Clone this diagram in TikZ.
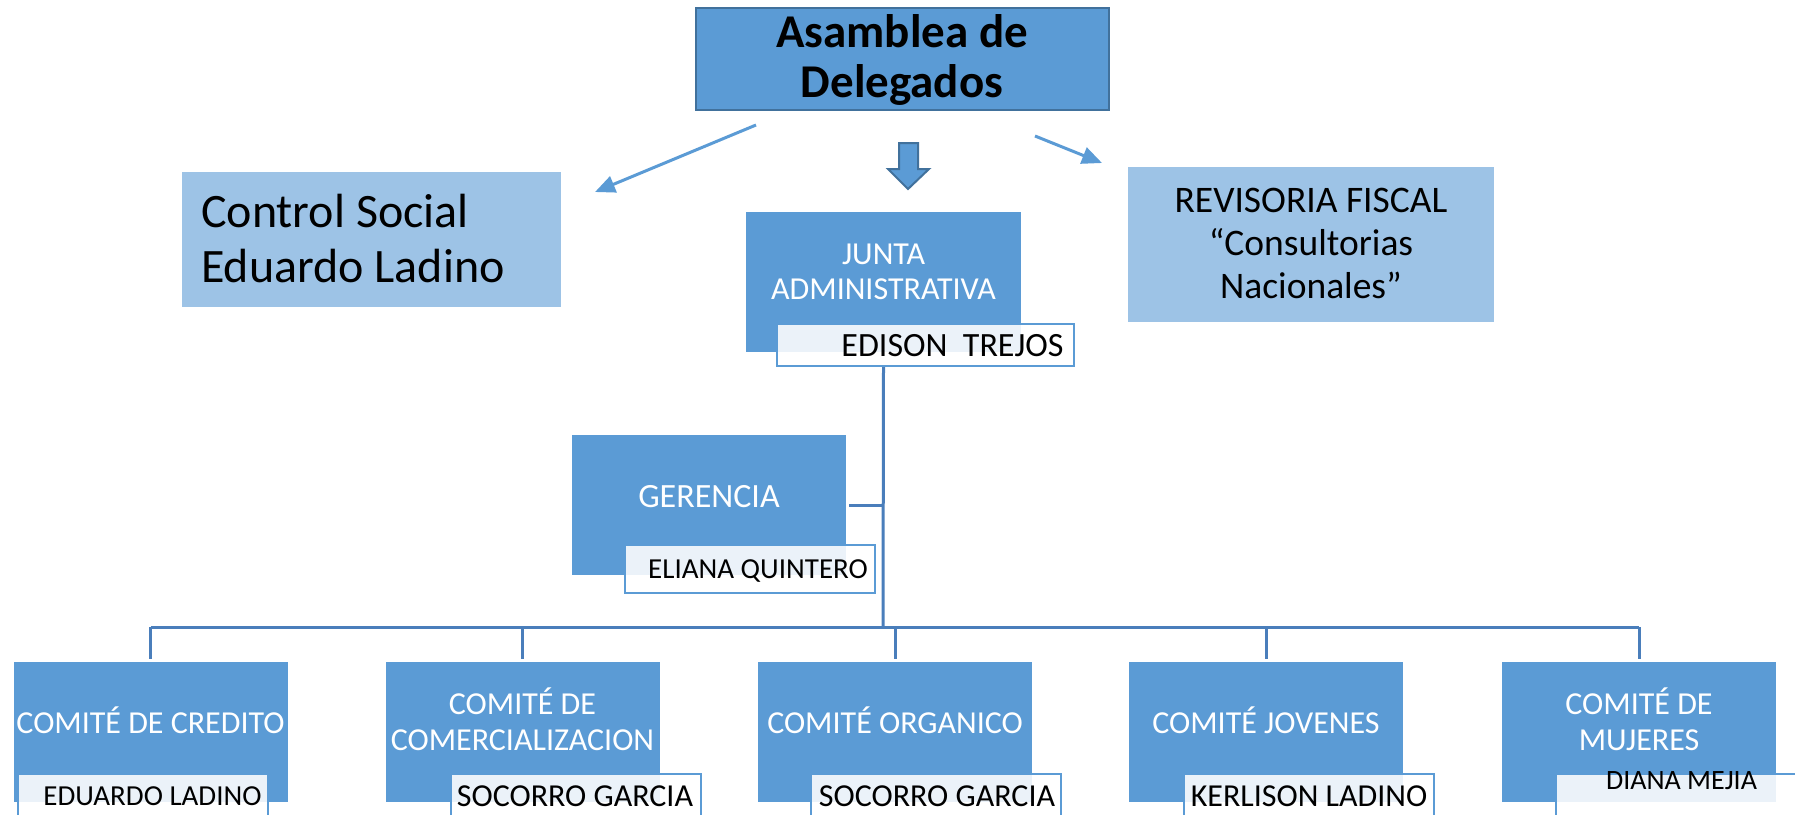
\documentclass[tikz,border=0pt]{standalone}
\usepackage{fontspec}
\setmainfont{Carlito}
\usetikzlibrary{arrows.meta}

\definecolor{azul}{HTML}{5B9BD5}
\definecolor{azulclaro}{HTML}{9DC3E6}
\definecolor{azuloscuro}{HTML}{41719C}
\definecolor{linea}{HTML}{4A7EBB}

\tikzset{
  caja/.style={fill=azul, draw=none, minimum width=274pt, minimum height=140pt, inner sep=0pt},
  nombre/.style={fill=white, fill opacity=0.88, draw=azul, line width=2pt, inner sep=0pt, minimum width=250pt, minimum height=48pt},
  blanco/.style={text=white, font=\fontsize{32}{36}\selectfont, align=center, anchor=base, inner sep=0pt},
  negro/.style={text=black, font=\fontsize{32}{36}\selectfont, anchor=base, inner sep=0pt},
  conector/.style={draw=linea, line width=3pt},
  flecha/.style={draw=azul, line width=3pt, -{Triangle[length=20pt,width=17pt]}}
}

\begin{document}
\begin{tikzpicture}[x=1pt, y=-1pt]
  \useasboundingbox (0,0) rectangle (1795,814);
  \clip (0,0) rectangle (1795,814);

  % asamblea
  \node[caja, draw=azuloscuro, line width=2pt, minimum width=413pt, minimum height=102pt] (asamblea) at (902,59) {};
  \node[anchor=base, inner sep=0pt, align=center, font=\fontsize{47}{50}\selectfont\bfseries] (asambleatxt) at (902,97) {Asamblea de\\Delegados};

  % flechas de la asamblea
  \coordinate (izqa) at (756,125);
  \coordinate (izqb) at (595,192);
  \coordinate (dera) at (1035,136);
  \coordinate (derb) at (1102,163);
  \draw[flecha] (izqa) -- (izqb);
  \draw[flecha] (dera) -- (derb);
  \filldraw[fill=azul, draw=azuloscuro, line width=2pt, line join=miter]
    (899,143) -- (918,143) -- (918,169) -- (929,169) -- (908,189) -- (888,169) -- (899,169) -- cycle;

  % control social y revisoria
  \node[caja, fill=azulclaro, minimum width=379pt, minimum height=135pt] (control) at (371.5,239.5) {};
  \node[anchor=base west, inner sep=0pt, align=left, font=\fontsize{48}{55}\selectfont] (controltxt) at (201,282) {Control Social\\Eduardo Ladino};
  \node[caja, fill=azulclaro, minimum width=366pt, minimum height=155pt] (revisoria) at (1311,244.5) {};
  \node[anchor=base, inner sep=0pt, align=center, font=\fontsize{37.5}{43}\selectfont] (revisoriatxt) at (1311,298) {REVISORIA FISCAL\\``Consultorias\\Nacionales''};

  % junta y gerencia
  \node[caja, minimum width=275pt] (junta) at (883.5,282) {};
  \node[blanco, font=\fontsize{32}{35}\selectfont] (juntatxt) at (883.5,299) {JUNTA\\ADMINISTRATIVA};
  \node[caja] (gerencia) at (709,505) {};
  \node[blanco, font=\fontsize{34}{40}\selectfont] (gerenciatxt) at (709,507) {GERENCIA};

  % lineas
  \coordinate (bus) at (883,627);
  \draw[conector] (junta.center |- 0,366) -- (bus);
  \draw[conector] ([xshift=3pt]gerencia.east) -- (bus |- gerencia.east);

  \node[nombre, minimum width=297pt, minimum height=42pt] (edison) at (925.5,345) {};
  \node[negro, font=\fontsize{34}{40}\selectfont] (edisontxt) at (952.5,356) {EDISON\ \ TREJOS};
  \node[nombre] (eliana) at (750,569) {};
  \node[negro, font=\fontsize{29}{34}\selectfont] (elianatxt) at (758,578) {ELIANA QUINTERO};

  % comites
  \foreach \n/\x in {1/150.5, 2/522.5, 3/895, 4/1266, 5/1639}
    \node[caja] (c\n) at (\x,732) {};
  \draw[conector] (c1 |- bus) -- (c5 |- bus);
  \foreach \n in {1,...,5}
    \draw[conector] (c\n |- bus) -- ([yshift=3pt]c\n.north);

  \node[blanco] (c1txt) at (150.5,733) {COMITÉ DE CREDITO};
  \node[blanco] (c2txt) at (522.5,750) {COMITÉ DE\\COMERCIALIZACION};
  \node[blanco] (c3txt) at (895,733) {COMITÉ ORGANICO};
  \node[blanco] (c4txt) at (1266,733) {COMITÉ JOVENES};
  \node[blanco] (c5txt) at (1639,750) {COMITÉ DE\\MUJERES};

  \node[nombre] (n1) at (143,798) {};
  \node[nombre] (n2) at (575.5,798) {};
  \node[nombre] (n3) at (936,798) {};
  \node[nombre] (n4) at (1308.5,798) {};
  \node[nombre] (n5) at (1681,798) {};
  \node[negro, font=\fontsize{29}{34}\selectfont] (n1txt) at (152.5,805) {EDUARDO LADINO};
  \node[negro] (n2txt) at (575,806) {SOCORRO GARCIA};
  \node[negro] (n3txt) at (937,806) {SOCORRO GARCIA};
  \node[negro] (n4txt) at (1309,806) {KERLISON LADINO};
  \node[negro, font=\fontsize{28}{34}\selectfont] (n5txt) at (1681.5,789) {DIANA MEJIA};
\end{tikzpicture}
\end{document}
